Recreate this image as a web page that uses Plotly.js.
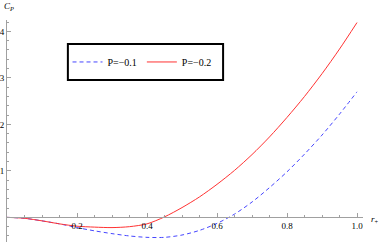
<!DOCTYPE html>
<html>
<head>
<meta charset="utf-8">
<script src="https://cdn.plot.ly/plotly-3.0.1.min.js"></script>
<style>html,body{margin:0;padding:0;background:#fff;}#chart{width:382px;height:242px;}</style>
</head>
<body>
<div id="chart"></div>
<script>
// r_+ values
var rPlus = [0, 0.05, 0.1, 0.15, 0.2, 0.25, 0.3, 0.35, 0.4, 0.45, 0.5,
             0.55, 0.6, 0.65, 0.7, 0.75, 0.8, 0.85, 0.9, 0.95, 1.0];
// C_P for P = -0.1 (blue dashed)
var cpP01 = [0, -0.02, -0.075, -0.14, -0.22, -0.29, -0.35, -0.40, -0.43, -0.43, -0.38,
             -0.28, -0.13, 0.07, 0.33, 0.64, 0.98, 1.36, 1.77, 2.22, 2.70];
// C_P for P = -0.2 (red solid)
var cpP02 = [0, -0.02, -0.075, -0.14, -0.19, -0.21, -0.22, -0.20, -0.14, 0.01, 0.21,
             0.44, 0.71, 1.01, 1.35, 1.73, 2.15, 2.60, 3.09, 3.62, 4.19];
var seriesNames = ["P=\u22120.1", "P=\u22120.2"];
var xTickVals = [0.2, 0.4, 0.6, 0.8, 1.0];
var xTickText = ["0.2", "0.4", "0.6", "0.8", "1.0"];
var yTickVals = [1, 2, 3, 4];
var yTickText = ["1", "2", "3", "4"];

var serif = "'Liberation Serif', 'DejaVu Serif', serif";
var yMin = -0.53, yMax = 4.245;

var traces = [
  {x: rPlus, y: cpP01, name: seriesNames[0], type: "scatter", mode: "lines",
   line: {color: "rgb(70,70,255)", width: 1, dash: "4px,3px", shape: "spline", smoothing: 0.8}},
  {x: rPlus, y: cpP02, name: seriesNames[1], type: "scatter", mode: "lines",
   line: {color: "rgb(255,50,50)", width: 1, shape: "spline", smoothing: 0.8}}
];

var layout = {
  width: 382, height: 242,
  margin: {l: 7, r: 19, t: 20, b: 0, pad: 0},
  paper_bgcolor: "#fff", plot_bgcolor: "#fff",
  font: {family: serif, size: 9, color: "#000"},
  showlegend: true,
  legend: {orientation: "h", x: 0.170, xanchor: "left", y: 0.811, yanchor: "middle",
           bgcolor: "rgba(0,0,0,0)", borderwidth: 0, font: {family: serif, size: 10, color: "#000"}},
  xaxis: {
    range: [0, 1.0171], anchor: "free", position: (0 - yMin) / (yMax - yMin),
    showgrid: false, zeroline: false, showline: true, linecolor: "#a0a0a0", linewidth: 1,
    tickmode: "array", tickvals: xTickVals, ticktext: xTickText,
    ticks: "inside", ticklen: 4, tickcolor: "#a0a0a0", tickwidth: 1,
    minor: {dtick: 0.05, tick0: 0, ticks: "inside", ticklen: 2, tickcolor: "#a0a0a0", showgrid: false},
    tickfont: {family: serif, size: 9, color: "#000"}, fixedrange: true
  },
  yaxis: {
    range: [yMin, yMax],
    showgrid: false, zeroline: false, showline: true, linecolor: "#a0a0a0", linewidth: 1,
    tickmode: "array", tickvals: yTickVals, ticktext: yTickText,
    ticks: "inside", ticklen: 4, tickcolor: "#a0a0a0", tickwidth: 1,
    minor: {dtick: 0.2, tick0: 0, ticks: "inside", ticklen: 2, tickcolor: "#a0a0a0", showgrid: false},
    tickfont: {family: serif, size: 9, color: "#000"}, fixedrange: true
  },
  shapes: [
    {type: "rect", xref: "paper", yref: "paper", x0: 0.171, x1: 0.607, y0: 0.730, y1: 0.892,
     line: {color: "#000", width: 2}, fillcolor: "rgba(0,0,0,0)"}
  ],
  annotations: [
    {xref: "paper", yref: "paper", x: 0, y: 1, xanchor: "left", yanchor: "bottom",
     xshift: -5, yshift: 6, showarrow: false,
     text: "<i>C</i><sub><i>P</i></sub>", font: {family: serif, size: 9, color: "#000"}},
    {xref: "paper", yref: "paper", x: 1, y: (0 - yMin) / (yMax - yMin), xanchor: "left", yanchor: "middle",
     xshift: 6, yshift: -2, showarrow: false,
     text: "<i>r</i><sub>+</sub>", font: {family: serif, size: 9, color: "#000"}}
  ]
};

Plotly.newPlot("chart", traces, layout, {staticPlot: true, displayModeBar: false});
</script>
</body>
</html>
